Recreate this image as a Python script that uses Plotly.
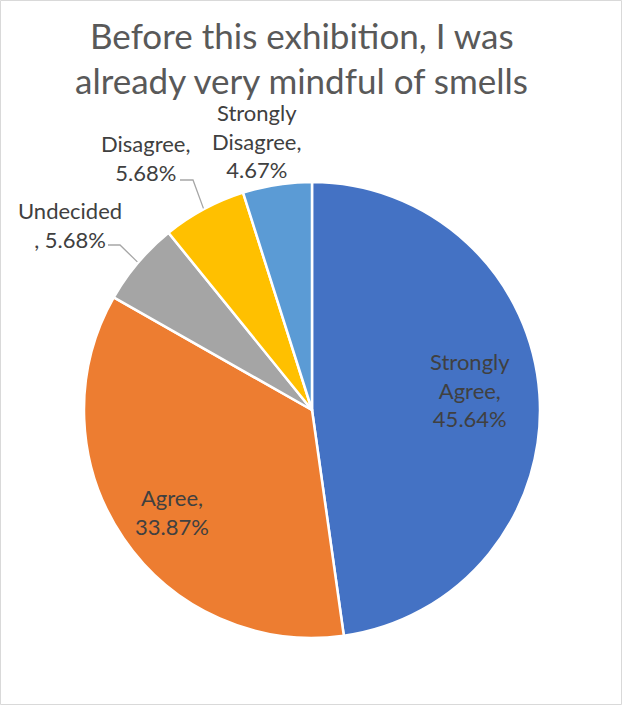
import math
import plotly.graph_objects as go

# ---- data ----
categories = ["Strongly Agree", "Agree", "Undecided", "Disagree", "Strongly Disagree"]
values = [45.64, 33.87, 5.68, 5.68, 4.67]
label_formats = ["Strongly<br>Agree,<br>{v}", "Agree,<br>{v}", "Undecided<br>, {v}",
                 "Disagree,<br>{v}", "Strongly<br>Disagree,<br>{v}"]
colors = ["#4472C4", "#ED7D31", "#A5A5A5", "#FFC000", "#5B9BD5"]
title_lines = ["Before this exhibition, I was", "already very mindful of smells"]

# ---- geometry (pixels) ----
W, H = 623, 707
CX, CY, R = 312, 410, 228
FONT = "Lato"

def px(x):
    return x / W

def py(y):
    return 1 - y / H

# label anchor points (px) and leader line knee points
label_pos = {
    "Strongly Agree": (470, 390),
    "Agree": (172, 512),
    "Undecided": (70, 225),
    "Disagree": (145, 158),
    "Strongly Disagree": (256, 141),
}
leaders = {
    "Undecided": [(108, 245), (120, 245)],
    "Disagree": [(180, 180), (193, 180)],
}
title_centers = [(301.5, 35), (301.5, 80)]

fig = go.Figure(go.Pie(
    labels=categories,
    values=values,
    sort=False,
    direction="clockwise",
    rotation=0,
    marker=dict(colors=colors, line=dict(color="white", width=2.5)),
    textinfo="none",
    hoverinfo="label+value",
    showlegend=False,
    domain=dict(x=[px(CX - R), px(CX + R)], y=[py(CY + R), py(CY - R)]),
))

annotations = []
shapes = []
for line, (tx, ty) in zip(title_lines, title_centers):
    annotations.append(dict(
        x=px(tx), y=py(ty), xref="paper", yref="paper", text=line,
        showarrow=False, xanchor="center", yanchor="middle",
        font=dict(family=FONT, size=35, color="#595959"),
    ))

total = sum(values)
cum = 0.0
for cat, val, fmt in zip(categories, values, label_formats):
    mid = (cum + val / 2) / total * 2 * math.pi
    cum += val
    lx, ly = label_pos[cat]
    annotations.append(dict(
        x=px(lx), y=py(ly), xref="paper", yref="paper",
        text=fmt.format(v=f"{val:.2f}%"), showarrow=False,
        xanchor="center", yanchor="middle", align="center",
        font=dict(family=FONT, size=22, color="#404040"),
    ))
    if cat in leaders:
        ex = CX + (R + 1) * math.sin(mid)
        ey = CY - (R + 1) * math.cos(mid)
        pts = leaders[cat] + [(ex, ey)]
        path = "M " + " L ".join(f"{px(a):.5f},{py(b):.5f}" for a, b in pts)
        shapes.append(dict(type="path", path=path, xref="paper", yref="paper",
                           line=dict(color="#A6A6A6", width=1.3)))

# outer light border
shapes.append(dict(type="rect", xref="paper", yref="paper",
                   x0=0.5 / W, x1=1 - 1.5 / W, y0=2.5 / H, y1=1 - 0.5 / H,
                   line=dict(color="#D9D9D9", width=1), fillcolor="rgba(0,0,0,0)"))

fig.update_layout(
    width=W, height=H,
    margin=dict(l=0, r=0, t=0, b=0),
    paper_bgcolor="white",
    annotations=annotations,
    shapes=shapes,
)

fig.write_html("out.html", config={"displayModeBar": False},
               post_script="document.body.style.margin='0';")
